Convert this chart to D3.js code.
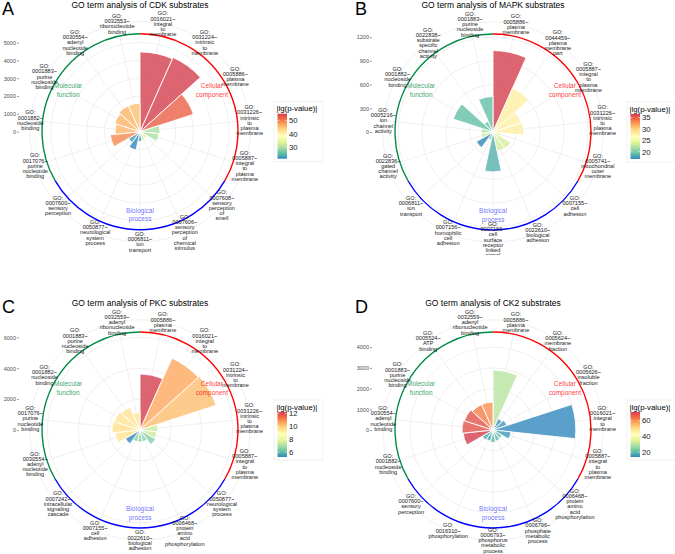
<!DOCTYPE html>
<html><head><meta charset="utf-8">
<script src="https://cdn.jsdelivr.net/npm/d3@7"></script>
<style>body{margin:0;background:#fff} text{font-family:"Liberation Sans",Arial,sans-serif}</style>
</head><body><svg id="c" width="675" height="554"></svg>
<script>
// ---------- DATA ----------
const termsA = ["GO:0016021~integral to membrane","GO:0031224~intrinsic to membrane","GO:0005886~plasma membrane","GO:0031226~intrinsic to plasma membrane","GO:0005887~integral to plasma membrane","GO:0007608~sensory perception of smell","GO:0007606~sensory perception of chemical stimulus","GO:0006811~ion transport","GO:0050877~neurological system process","GO:0007600~sensory perception","GO:0017076~purine nucleotide binding","GO:0001882~nucleoside binding","GO:0001883~purine nucleoside binding","GO:0030554~adenyl nucleotide binding","GO:0032553~ribonucleotide binding"];
const countsA = [4480,4560,3150,1120,1070,450,520,550,1050,750,1680,1400,1500,1600,1600];
const lgpA = [55,55,52,30,30,34,33,23,21.4,23,49,46,46,46,45];

const termsB = ["GO:0005886~plasma membrane","GO:0044459~plasma membrane part","GO:0005887~integral to plasma membrane","GO:0031226~intrinsic to plasma membrane","GO:0005741~mitochondrial outer membrane","GO:0007155~cell adhesion","GO:0022610~biological adhesion","GO:0007166~cell surface receptor linked signal transduction","GO:0007156~homophilic cell adhesion","GO:0006811~ion transport","GO:0022836~gated channel activity","GO:0005216~ion channel activity","GO:0001882~nucleoside binding","GO:0022838~substrate specific channel activity","GO:0001883~purine nucleoside binding"];
const countsB = [1030,610,375,390,100,260,250,505,100,245,150,150,530,150,450];
const lgpB = [36.6,28,28,28,24,23.5,23.5,18.5,19.5,16.8,23,22,19.2,19.5,19.2];

const termsC = ["GO:0005886~plasma membrane","GO:0016021~integral to membrane","GO:0031224~intrinsic to membrane","GO:0031226~intrinsic to plasma membrane","GO:0005887~integral to plasma membrane","GO:0050877~neurological system process","GO:0006468~protein amino acid phosphorylation","GO:0022610~biological adhesion","GO:0007155~cell adhesion","GO:0007242~intracellular signaling cascade","GO:0030554~adenyl nucleotide binding","GO:0017076~purine nucleotide binding","GO:0001882~nucleoside binding","GO:0001883~purine nucleoside binding","GO:0032559~adenyl ribonucleotide binding"];
const countsC = [3630,5090,5180,1170,1100,1170,780,780,780,1100,1620,1815,1750,1620,1170];
const lgpC = [12.25,10.6,10.2,7.5,7.5,6.5,6.5,6.5,6.5,5.25,9.5,9.6,9.5,9.5,9.4];

const termsD = ["GO:0005886~plasma membrane","GO:0005624~membrane fraction","GO:0005626~insoluble fraction","GO:0016021~integral to membrane","GO:0005887~integral to plasma membrane","GO:0006468~protein amino acid phosphorylation","GO:0006796~phosphate metabolic process","GO:0006793~phosphorus metabolic process","GO:0016310~phosphorylation","GO:0007600~sensory perception","GO:0001882~nucleoside binding","GO:0030554~adenyl nucleotide binding","GO:0001883~purine nucleoside binding","GO:0005524~ATP binding","GO:0032559~adenyl ribonucleotide binding"];
const countsD = [2900,600,700,4000,870,500,550,600,550,600,1450,1500,1450,1350,1350];
const lgpD = [30,16,16,14,16,20,20,20,18,18,71,68,68,62,60];

const groupNames = [["Cellular","component"],["Biological","process"],["Molecular","function"]];
const ticksA = [0,1000,2000,3000,4000,5000];
const ticksB = [0,300,600,900,1200];
const ticksC = [0,2000,4000,6000];
const ticksD = [0,1000,2000,3000,4000];
const legTicksA = [30,40,50], legTicksB = [20,25,30,35], legTicksC = [6,8,10,12], legTicksD = [20,40,60];

// ---------- STYLE / LAYOUT ----------
const svg = d3.select("#c");
const palette = ["#3288BD","#66C2A5","#ABDDA4","#E6F598","#FFFFBF","#FEE08B","#FDAE61","#F46D43","#D53E4F"];
const groupCols = ["#FF0000","#0000FF","#008B45"];
const R = 98, RL = R*0.45/0.4;

const panels = [
 {id:"A",title:"GO term analysis of CDK substrates",terms:termsA,counts:countsA,lgp:lgpA,ticks:ticksA,leg:legTicksA,cx:140,cy:131.7,ymax:5500,clip:255},
 {id:"B",title:"GO term analysis of MAPK substrates",terms:termsB,counts:countsB,lgp:lgpB,ticks:ticksB,leg:legTicksB,cx:493,cy:132,ymax:1240,clip:255},
 {id:"C",title:"GO term analysis of PKC substrates",terms:termsC,counts:countsC,lgp:lgpC,ticks:ticksC,leg:legTicksC,cx:140,cy:430,ymax:6350,clip:554},
 {id:"D",title:"GO term analysis of CK2 substrates",terms:termsD,counts:countsD,lgp:lgpD,ticks:ticksD,leg:legTicksD,cx:493,cy:430,ymax:4734,clip:554}
];

const defs = svg.append("defs");

panels.forEach((p,pi)=>{
  const data = p.terms.map((t,i)=>({term:t,count:p.counts[i],lgp:p.lgp[i]}));
  const [cmin,cmax] = d3.extent(p.lgp);
  const col = d3.scaleLinear().domain(palette.map((c,i)=>cmin+(cmax-cmin)*i/(palette.length-1))).range(palette).interpolate(d3.interpolateRgb);
  const x = d3.scaleBand().domain(p.terms).range([0,2*Math.PI]).padding(0);
  const y = d3.scaleLinear().domain([0,p.ymax]).range([0,R]);

  defs.append("clipPath").attr("id","clip"+p.id).append("rect")
    .attr("x",-p.cx).attr("y",-p.cy).attr("width",675).attr("height",p.clip);
  const root = svg.append("g").attr("transform",`translate(${p.cx},${p.cy})`);
  const g = root.append("g").attr("clip-path",`url(#clip${p.id})`);

  // grid
  g.selectAll(".gc").data(p.ticks.filter(t=>t>0).map(t=>y(t)).concat([RL])).enter()
   .append("circle").attr("r",d=>d).attr("fill","none").attr("stroke","#e6e6e6").attr("stroke-width",0.6);
  g.selectAll(".sp").data(p.terms).enter().append("line")
   .attr("x1",0).attr("y1",0)
   .attr("x2",d=>RL*Math.sin(x(d)+x.bandwidth()/2)).attr("y2",d=>-RL*Math.cos(x(d)+x.bandwidth()/2))
   .attr("stroke","#e6e6e6").attr("stroke-width",0.6);

  // bars
  const arc = d3.arc().innerRadius(0);
  g.selectAll(".bar").data(data).enter().append("path")
   .attr("d",d=>arc({outerRadius:y(d.count),startAngle:x(d.term),endAngle:x(d.term)+x.bandwidth()}))
   .attr("fill",d=>col(d.lgp)).attr("fill-opacity",0.8)
   .attr("stroke","#fff").attr("stroke-width",0.9);

  // group rings
  const ringArc = d3.arc().innerRadius(R).outerRadius(R);
  [0,1,2].forEach(k=>{
    const a0 = x(p.terms[k*5]), a1 = x(p.terms[k*5+4])+x.bandwidth();
    g.append("path").attr("d",ringArc({startAngle:a0,endAngle:a1}))
     .attr("fill","none").attr("stroke",groupCols[k]).attr("stroke-width",1.4);
    const am = (a0+a1)/2, rr = 83;
    const t = g.append("text").attr("text-anchor","middle").attr("font-size",6.5)
      .attr("fill",groupCols[k]).attr("fill-opacity",k==1?0.6:0.8);
    groupNames[k].forEach((w,j)=>t.append("tspan").attr("x",rr*Math.sin(am)).attr("y",-rr*Math.cos(am)+(j-0.5)*8.7+2.3).text(w));
  });

  // term labels
  data.forEach(d=>{
    const a = x(d.term)+x.bandwidth()/2;
    const parts = d.term.split("~");
    const lines = [parts[0].slice(0,3), parts[0].slice(3)+"~"].concat(parts[1].split(" "));
    const lh = 5.2, fs = 5.6;
    const cx = RL*Math.sin(a), cy = -RL*Math.cos(a);
    const t = g.append("text").attr("text-anchor","middle").attr("font-size",fs).attr("fill","#1a1a1a");
    lines.forEach((l,j)=>t.append("tspan").attr("x",cx).attr("y",cy+(j-(lines.length-1)/2)*lh+fs*0.35).text(l));
  });

  // y axis
  const ya = d3.scaleLinear().domain([0,p.ymax]).range([0,-R]);
  const ax = root.append("g").attr("transform",`translate(-121,0)`)
    .call(d3.axisLeft(ya).tickValues(p.ticks).tickSize(2).tickPadding(1).tickFormat(d3.format("d")));
  ax.select(".domain").remove();
  ax.selectAll("line").attr("stroke","#333").attr("stroke-width",0.5);
  ax.selectAll("text").attr("font-size",5.5).attr("fill","#4d4d4d").attr("font-family","Liberation Sans, Arial, sans-serif");

  // title & letter
  root.append("text").attr("x",0).attr("y",-124).attr("text-anchor","middle").attr("font-size",8.5).attr("fill","#000").text(p.title);
  root.append("text").attr("x",-138).attr("y",-117).attr("font-size",18).attr("fill","#000").text(p.id);

  // legend
  const lg = root.append("g").attr("transform","translate(134,-30)");
  lg.append("rect").attr("width",49).attr("height",60).attr("fill","#fff").attr("stroke","#e8e8e8").attr("stroke-width",0.6);
  lg.append("text").attr("x",2.5).attr("y",9.5).attr("font-size",7.8).attr("fill","#000").text("|lg(p-value)|");
  const gid = "grad"+p.id;
  const grad = defs.append("linearGradient").attr("id",gid).attr("x1",0).attr("y1",1).attr("x2",0).attr("y2",0);
  palette.forEach((c,i)=>grad.append("stop").attr("offset",i/(palette.length-1)).attr("stop-color",c));
  const lsc = d3.scaleLinear().domain([cmin,cmax]).range([57,12]);
  lg.append("rect").attr("x",3.5).attr("y",12).attr("width",9.5).attr("height",45).attr("fill",`url(#${gid})`);
  p.leg.forEach(v=>{
    lg.append("line").attr("x1",3.5).attr("x2",5.5).attr("y1",lsc(v)).attr("y2",lsc(v)).attr("stroke","#fff").attr("stroke-width",0.5);
    lg.append("line").attr("x1",11).attr("x2",13).attr("y1",lsc(v)).attr("y2",lsc(v)).attr("stroke","#fff").attr("stroke-width",0.5);
    lg.append("text").attr("x",15).attr("y",lsc(v)+2.8).attr("font-size",7.8).attr("fill","#1a1a1a").text(v);
  });
});
</script></body></html>
